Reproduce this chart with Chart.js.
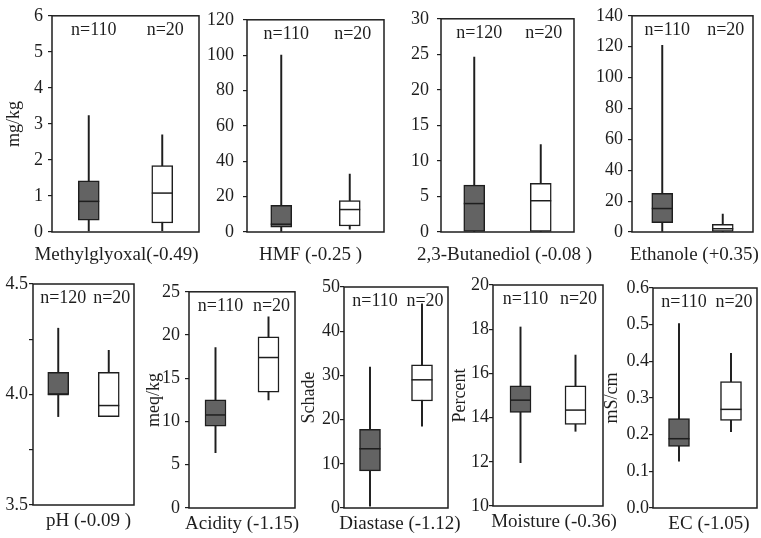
<!DOCTYPE html>
<html>
<head>
<meta charset="utf-8">
<title>Box plots</title>
<script src="https://cdn.jsdelivr.net/npm/chart.js@4.4.1/dist/chart.umd.min.js"></script>
<style>
  html, body { margin: 0; padding: 0; background: #fff; }
  #wrap { position: relative; width: 761px; height: 538px; overflow: hidden; background: #fff; }
  #wrap canvas { position: absolute; }
</style>
</head>
<body>
<div id="wrap"></div>
<script>
const labels = ['Methylglyoxal(-0.49)', 'HMF (-0.25 )', '2,3-Butanediol (-0.08 )', 'Ethanole (+0.35)', 'pH (-0.09 )', 'Acidity (-1.15)', 'Diastase (-1.12)', 'Moisture (-0.36)', 'EC (-1.05)'];
const units = ['mg/kg', '', '', '', '', 'meq/kg', 'Schade', 'Percent', 'mS/cm'];
const counts = [[110, 20], [110, 20], [120, 20], [110, 20], [120, 20], [110, 20], [110, 20], [110, 20], [110, 20]];

// two groups per panel: [dark, white]
const minVals = [[0.03, 0.04], [0, 1.6], [0, 0], [0, 0], [3.9, 3.9], [6.4, 12.5], [0.4, 18.5], [11.96, 13.38], [0.128, 0.208]];
const q1Vals = [[0.33, 0.25], [2.7, 3.4], [0, 0], [6.1, 0.4], [4.0, 3.9], [9.47, 13.4], [8.4, 24.2], [14.23, 13.69], [0.168, 0.239]];
const medVals = [[0.85, 1.08], [4.4, 12.7], [4.0, 4.4], [15.2, 2.1], [4.0, 3.95], [10.76, 17.4], [13.4, 29.0], [14.79, 14.34], [0.189, 0.269]];
const q3Vals = [[1.42, 1.84], [15.1, 17.8], [6.6, 6.85], [25, 5.0], [4.1, 4.1], [12.5, 19.8], [17.8, 32.4], [15.44, 15.44], [0.244, 0.345]];
const maxVals = [[3.23, 2.7], [100, 32.8], [24.6, 12.3], [120.8, 11.6], [4.3, 4.2], [18.56, 22.1], [31.9, 46.2], [18.1, 16.83], [0.503, 0.422]];

const yMin = [0, 0, 0, 0, 3.5, 0, 0, 10, 0];
const yMax = [6, 120, 30, 140, 4.5, 25, 50, 20, 0.6];
const yStep = [1, 20, 5, 20, 0.25, 5, 10, 2, 0.1];
const yDecimals = [0, 0, 0, 0, 1, 0, 0, 0, 1];

// canvas left, plot left, plot top, plot right, plot bottom, tick padding, label shift, label drop
const frames = [
  [3, 52, 12, 199, 232, 5, -9, 28],
  [200, 247, 12, 384, 232, 9, -5, 28],
  [395, 441, 12, 574, 232, 8, -3, 28],
  [585, 632, 12, 753, 232, 5, 2, 28],
  [0, 33, 284, 134, 505, 1, 5, 21],
  [143, 189, 288, 295, 508, 5, 0, 21],
  [298, 344, 287, 448, 508, 0, 4, 21],
  [449, 493, 285, 603, 506, 0, 6, 21],
  [601, 653, 288, 757, 508, 0, 4, 21]
];

const ink = '#1e1e1e';
const darkFill = '#636363';
const serif = '"Liberation Serif", "Times New Roman", serif';

const boxParts = {
  id: 'boxParts',
  afterDatasetsDraw(chart, args, opts) {
    const { ctx, chartArea: a, scales: { x, y } } = chart;
    const meta = chart.getDatasetMeta(1);
    ctx.save();
    ctx.strokeStyle = ink;
    ctx.lineWidth = 1.5;
    // medians
    meta.data.forEach((bar, i) => {
      const py = y.getPixelForValue(opts.med[i]);
      ctx.beginPath();
      ctx.moveTo(bar.x - bar.width / 2, py);
      ctx.lineTo(bar.x + bar.width / 2, py);
      ctx.stroke();
    });
    // frame
    ctx.strokeRect(a.left, a.top, a.right - a.left, a.bottom - a.top);
    // sample sizes
    ctx.fillStyle = ink;
    ctx.textAlign = 'center';
    ctx.textBaseline = 'alphabetic';
    ctx.font = '18px ' + serif;
    opts.n.forEach((n, i) => {
      ctx.fillText('n=' + n, x.getPixelForValue(i) + (i === 0 ? 5 : 3), a.top + 19);
    });
    // variable name under the panel
    ctx.font = '19px ' + serif;
    ctx.fillText(opts.label, (a.left + a.right) / 2 + opts.shift, a.bottom + opts.drop);
    ctx.restore();
  }
};

const wrap = document.getElementById('wrap');

frames.forEach((f, k) => {
  const [cl, pl, pt, pr, pb, tickPad, shift, drop] = f;
  const padRight = 20;
  const padBottom = 40;
  const canvas = document.createElement('canvas');
  canvas.width = pr - cl + padRight;
  canvas.height = pb - pt + 12 + padBottom;
  canvas.style.left = cl + 'px';
  canvas.style.top = (pt - 12) + 'px';
  wrap.appendChild(canvas);

  new Chart(canvas.getContext('2d'), {
    type: 'bar',
    data: {
      labels: ['a', 'b'],
      datasets: [
        {
          data: minVals[k].map((v, i) => [v, maxVals[k][i]]),
          backgroundColor: ink,
          borderWidth: 0,
          barThickness: 1.3,
          grouped: false,
          order: 2
        },
        {
          data: q1Vals[k].map((v, i) => [v, q3Vals[k][i]]),
          backgroundColor: [darkFill, '#ffffff'],
          borderColor: ink,
          borderWidth: 1.5,
          borderSkipped: false,
          barThickness: 21,
          grouped: false,
          order: 1
        }
      ]
    },
    options: {
      responsive: false,
      animation: false,
      layout: { padding: { left: 0, top: 12, right: padRight, bottom: padBottom } },
      plugins: {
        legend: { display: false },
        tooltip: { enabled: false },
        boxParts: { med: medVals[k], n: counts[k], label: labels[k], shift: shift, drop: drop }
      },
      scales: {
        x: { display: false },
        y: {
          min: yMin[k],
          max: yMax[k],
          afterFit: s => { s.width = pl - cl; },
          ticks: {
            stepSize: yStep[k],
            autoSkip: false,
            padding: tickPad,
            color: ink,
            font: { family: serif, size: 18 },
            callback: v => {
              if (k === 4 && Math.abs(v * 2 - Math.round(v * 2)) > 1e-6) return '';
              return Number(v).toFixed(yDecimals[k]);
            }
          },
          grid: { drawOnChartArea: false, drawTicks: true, tickLength: 4, color: ink, lineWidth: 1.2 },
          border: { display: false },
          title: {
            display: units[k] !== '',
            text: units[k],
            color: ink,
            font: { family: serif, size: 18 },
            padding: 0
          }
        }
      }
    },
    plugins: [boxParts]
  });
});
</script>
</body>
</html>
